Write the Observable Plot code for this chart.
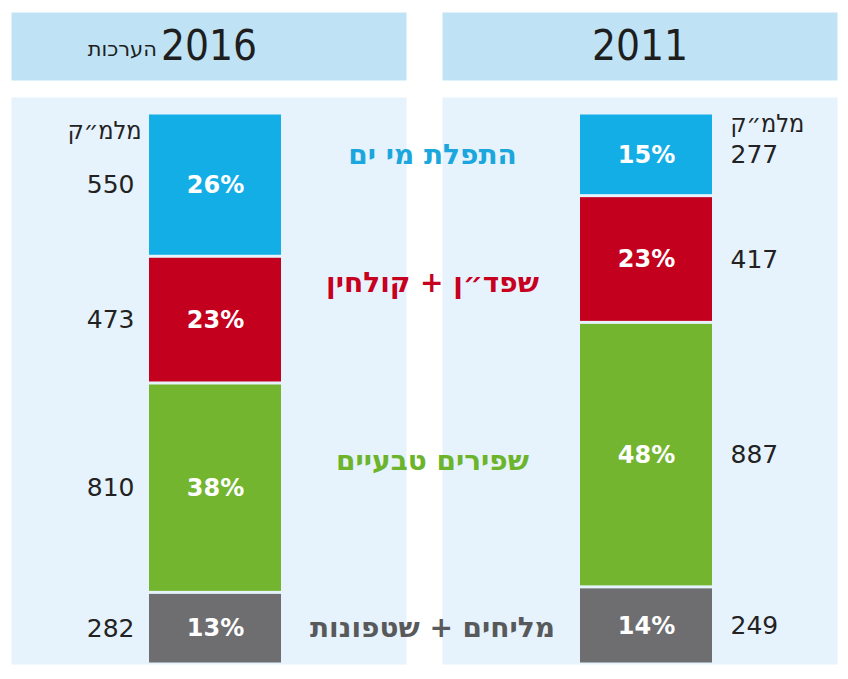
<!DOCTYPE html>
<html><head><meta charset="utf-8">
<script src="https://cdn.jsdelivr.net/npm/d3@7"></script>
<script src="https://cdn.jsdelivr.net/npm/@observablehq/plot@0.6"></script>
<style>
html,body{margin:0;padding:0;background:#fff;}
#chart svg{display:block;}
</style>
</head><body><div id="chart"></div>
<script>
// ---- data ----
const categories = ["התפלת מי ים", "שפד״ן + קולחין", "שפירים טבעיים", "מליחים + שטפונות"];
const years = ["2016", "2011"];
const yearNotes = ["הערכות", ""];
const pct2016 = [26, 23, 38, 13];
const vol2016 = [550, 473, 810, 282];
const pct2011 = [15, 23, 48, 14];
const vol2011 = [277, 417, 887, 249];
const unitLabel = "מלמ״ק";

// ---- styles ----
const barColors = ["#14aee6", "#c3001d", "#73b52f", "#6e6e70"];
const labelColors = ["#1ba7de", "#c6001e", "#6cb42c", "#58595b"];
const labelDy = [0, 24, 6, 2];
const condensed = '"DejaVu Sans Condensed", "DejaVu Sans", sans-serif';
const wide = '"DejaVu Sans", sans-serif';

const rows = [];
categories.forEach((c, i) => {
  rows.push({year: "2016", cat: c, pct: pct2016[i], vol: vol2016[i]});
  rows.push({year: "2011", cat: c, pct: pct2011[i], vol: vol2011[i]});
});
const order = categories.slice().reverse(); // bottom-up stacking
const rows2016 = rows.filter(d => d.year === "2016");
const rows2011 = rows.filter(d => d.year === "2011");

// category label anchor: mid of each 2011 segment (in % units)
let acc = 100;
const catLabels = categories.map((c, i) => {
  const mid = acc - pct2011[i] / 2;
  acc -= pct2011[i];
  return {year: "2011", cat: c, mid, i};
});

const headers = years.map((y, i) => ({year: y, note: yearNotes[i]}));

const stackOpts = {fx: "year", y: "pct", z: "cat", order};

const chart = Plot.plot({
  width: 848,
  height: 679,
  marginTop: 113,
  marginBottom: 15,
  marginLeft: 10,
  marginRight: 10,
  style: {fontFamily: wide, background: "white"},
  fx: {domain: years, paddingInner: 0.0833, paddingOuter: 0, axis: null, label: null},
  y: {domain: [0, 100], axis: null},
  color: {domain: categories, range: barColors},
  marks: [
    // panel backgrounds
    Plot.frame({fill: "#e6f3fc", stroke: null, insetTop: -16}),
    // header bands
    Plot.frame({fill: "#bfe3f4", stroke: null, insetTop: -101, insetBottom: 584}),
    Plot.text(headers, {fx: "year", text: "year", frameAnchor: "top", lineAnchor: "middle", dy: -67, fontSize: 42, fontFamily: condensed, fill: "#1e1e1e"}),
    Plot.text(headers.filter(d => d.note), {fx: "year", text: "note", frameAnchor: "top", lineAnchor: "middle", dy: -64, dx: -52, textAnchor: "end", fontSize: 21, fill: "#1e1e1e"}),
    // stacked bars
    Plot.barY(rows, Plot.stackY({...stackOpts, fill: "cat", insetLeft: 138, insetRight: 125, insetTop: 1.5, insetBottom: 1.5})),
    // percent labels
    Plot.text(rows, Plot.stackY({...stackOpts, text: d => d.pct + "%", frameAnchor: "left", textAnchor: "middle", dx: 204, fill: "white", fontWeight: "bold", fontSize: 24})),
    // volume labels
    Plot.text(rows2016, Plot.stackY({...stackOpts, text: "vol", frameAnchor: "left", dx: 123, textAnchor: "end", fill: "#222", fontSize: 25})),
    Plot.text(rows2011, Plot.stackY({...stackOpts, text: "vol", frameAnchor: "left", dx: 288, textAnchor: "start", fill: "#222", fontSize: 25})),
    // unit labels
    Plot.text([{year: "2016"}], {fx: "year", text: () => unitLabel, frameAnchor: "top-left", lineAnchor: "middle", dx: 130, dy: 17, textAnchor: "end", fill: "#222", fontSize: 25, fontFamily: condensed}),
    Plot.text([{year: "2011"}], {fx: "year", text: () => unitLabel, frameAnchor: "top-left", lineAnchor: "middle", dx: 288, dy: 10, textAnchor: "start", fill: "#222", fontSize: 25, fontFamily: condensed}),
    // category labels
    ...catLabels.map(d => Plot.text([d], {fx: "year", y: "mid", text: "cat", frameAnchor: "left", dx: -10, dy: labelDy[d.i], textAnchor: "middle", fill: labelColors[d.i], fontWeight: "bold", fontSize: 28}))
  ]
});
document.getElementById("chart").append(chart);
</script>
</body></html>
